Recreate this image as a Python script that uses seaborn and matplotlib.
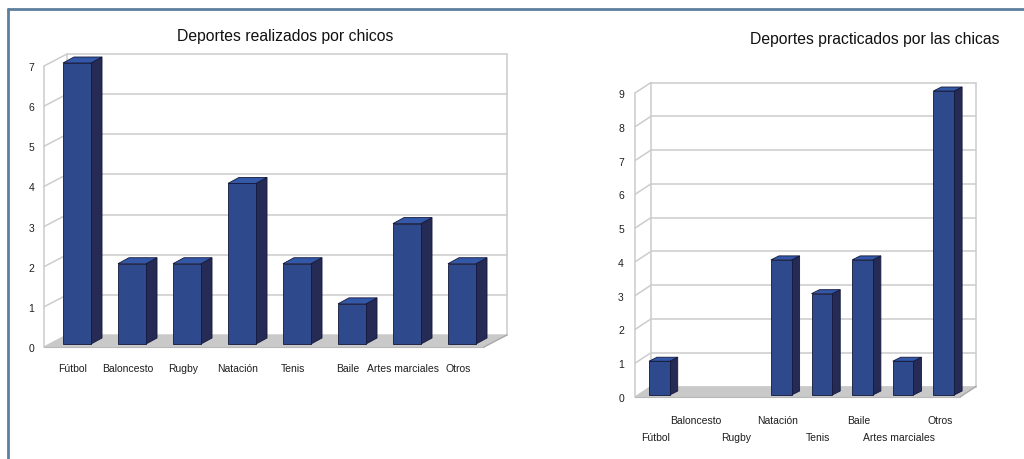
import matplotlib
matplotlib.use("Agg")
import matplotlib.pyplot as plt
import seaborn as sns
from matplotlib.patches import Polygon
from matplotlib.lines import Line2D
from matplotlib.transforms import ScaledTranslation

# ---- data ----
categorias = ["Fútbol", "Baloncesto", "Rugby", "Natación", "Tenis", "Baile",
              "Artes marciales", "Otros"]
chicos = [7, 2, 2, 4, 2, 1, 3, 2]
chicas = [1, 0, 0, 4, 3, 4, 1, 9]
titulo_chicos = "Deportes realizados por chicos"
titulo_chicas = "Deportes practicados por las chicas"
ticks_chicos = [0, 1, 2, 3, 4, 5, 6, 7]
ticks_chicas = [0, 1, 2, 3, 4, 5, 6, 7, 8, 9]

sns.set_theme(style="white")
plt.rcParams['font.family'] = ['Liberation Sans', 'DejaVu Sans']

FRONT = "#2F4A8C"
SIDE = "#262B56"
TOP = "#3358A8"
EDGE = "#14183A"
GRID = "#CCCCCC"
FLOOR = "#C9C9C9"
BORDER = "#5E7E9E"
TXT = "#1E1E1E"

fig = plt.figure(figsize=(10.24, 4.6), dpi=100)


def draw(ax, values, ticks, depth, bar_depth, bar_shift, stagger, pad_x, pad_y):
    sns.barplot(x=categorias, y=values, color=FRONT, saturation=1, width=0.51,
                edgecolor=EDGE, linewidth=0.6, ax=ax, zorder=4)
    ax.set_xlim(-0.6, 7.4)
    ax.set_ylim(ticks[0], ticks[-1])
    ax.set_facecolor("none")
    for s in ax.spines.values():
        s.set_visible(False)
    x0, x1 = ax.get_xlim()
    y0, y1 = ax.get_ylim()
    sx = (x1 - x0) / ax.bbox.width
    sy = (y1 - y0) / ax.bbox.height
    ddx, ddy = depth[0] * sx, depth[1] * sy
    bdx, bdy = bar_depth[0] * sx, bar_depth[1] * sy

    # floor
    ax.add_patch(Polygon([(x0, y0), (x1, y0), (x1 + ddx, y0 + ddy), (x0 + ddx, y0 + ddy)],
                         closed=True, facecolor=FLOOR, edgecolor="none",
                         clip_on=False, zorder=1.5))
    ax.plot([x1, x1 + ddx], [y0, y0 + ddy], color="#A8A8A8", lw=1.0,
            clip_on=False, zorder=1.6)
    ax.plot([x0, x1], [y0, y0], color="#B8B8B8", lw=0.8, clip_on=False, zorder=1.6)
    # back wall and side wall lines
    for t in ticks:
        ax.plot([x0 + ddx, x1 + ddx], [t + ddy, t + ddy], color=GRID, lw=1.1,
                clip_on=False, zorder=1)
        ax.plot([x0, x0 + ddx], [t, t + ddy], color=GRID, lw=1.1,
                clip_on=False, zorder=1)
    ax.plot([x0, x0], [y0, y1], color=GRID, lw=1.1, clip_on=False, zorder=1)
    for xb in (x0 + ddx, x1 + ddx):
        ax.plot([xb, xb], [y0 + ddy, y1 + ddy], color=GRID, lw=1.1,
                clip_on=False, zorder=1)

    # 3D bars
    for p in list(ax.patches):
        if p.get_zorder() != 4:
            continue
        h = p.get_height()
        if h <= 0:
            p.set_visible(False)
            continue
        p.set_y(p.get_y() + bar_shift * sy)
        p.set_clip_on(False)
        bx, by, bw = p.get_x(), p.get_y(), p.get_width()
        side = Polygon([(bx + bw, by), (bx + bw, by + h), (bx + bw + bdx, by + h + bdy),
                        (bx + bw + bdx, by + bdy)], closed=True, facecolor=SIDE,
                       edgecolor=EDGE, lw=0.6, clip_on=False, zorder=3)
        top = Polygon([(bx, by + h), (bx + bw, by + h), (bx + bw + bdx, by + h + bdy),
                       (bx + bdx, by + h + bdy)], closed=True, facecolor=TOP,
                      edgecolor=EDGE, lw=0.6, clip_on=False, zorder=3)
        ax.add_patch(side)
        ax.add_patch(top)

    ax.set_yticks(ticks)
    ax.set_yticklabels([str(t) for t in ticks])
    idx = list(range(len(categorias)))
    if stagger:
        ax.set_xticks(idx[0::2], labels=categorias[0::2])
        ax.set_xticks(idx[1::2], labels=categorias[1::2], minor=True)
        ax.tick_params(axis='x', which='major', length=0, pad=pad_x + 12.5,
                       labelsize=7.5, colors=TXT)
        ax.tick_params(axis='x', which='minor', length=0, pad=pad_x,
                       labelsize=7.5, colors=TXT)
    else:
        ax.set_xticks(idx, labels=categorias)
        ax.tick_params(axis='x', length=0, pad=pad_x, labelsize=7.5, colors=TXT)
    shift = ScaledTranslation(-4 / 100, 0, fig.dpi_scale_trans)
    for lab in ax.get_xticklabels(which='both'):
        lab.set_transform(lab.get_transform() + shift)
    ax.tick_params(axis='y', length=0, pad=pad_y, labelsize=7.5, colors=TXT)
    ax.set_xlabel("")
    ax.set_ylabel("")
    ax.grid(False)


ax1 = fig.add_axes([44 / 1024, 112 / 460, 440 / 1024, 281 / 460])
draw(ax1, chicos, ticks_chicos, depth=(23, 12), bar_depth=(11, 6), bar_shift=3,
     stagger=False, pad_x=11.5, pad_y=7)

ax2 = fig.add_axes([635 / 1024, 62 / 460, 325 / 1024, 304 / 460])
draw(ax2, chicas, ticks_chicas, depth=(16, 10.5), bar_depth=(8, 4), bar_shift=2,
     stagger=True, pad_x=13, pad_y=8)

fig.text(285 / 1024, 1 - 37 / 460, titulo_chicos, ha="center", va="center",
         fontsize=11.3, color="#111111")
fig.text(875 / 1024, 1 - 40 / 460, titulo_chicas, ha="center", va="center",
         fontsize=11.3, color="#111111")

# outer frame (top and left edges)
fig.add_artist(Line2D([8 / 1024, 1.0], [1 - 10 / 460, 1 - 10 / 460], color=BORDER,
                      lw=2, transform=fig.transFigure))
fig.add_artist(Line2D([8 / 1024, 8 / 1024], [1 - 10 / 460, 0.0], color=BORDER,
                      lw=2, transform=fig.transFigure))

fig.savefig("out.png", dpi=100)
